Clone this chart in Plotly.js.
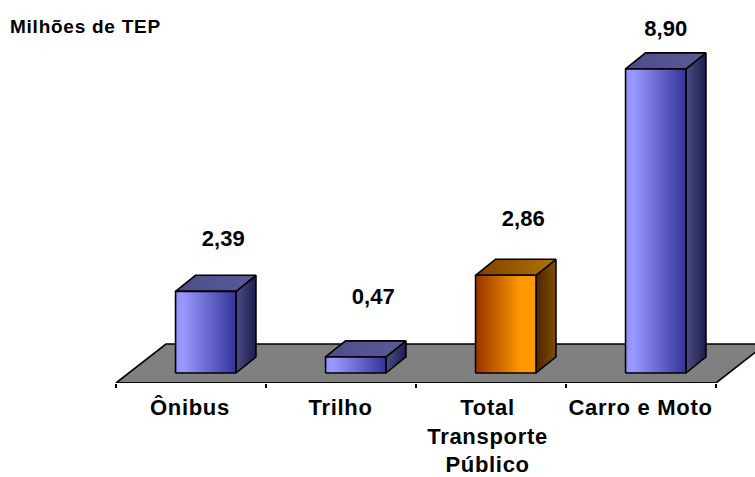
<!DOCTYPE html>
<html><head><meta charset="utf-8">
<script src="https://cdn.plot.ly/plotly-3.0.1.min.js"></script>
<style>html,body{margin:0;padding:0;background:#fff}
.annotation-text{letter-spacing:0.75px}
.xtick text{letter-spacing:0.7px}</style></head>
<body><div id="chart" style="width:755px;height:477px"></div>
<script>
const categories = ['Ônibus','Trilho','Total<br>Transporte<br>Público','Carro e Moto'];
const values = [2.39,0.47,2.86,8.90];
const valueLabels = ['2,39','0,47','2,86','8,90'];
const labelLift = [1.5,1.72,1.59,1.14];
const labelNudge = [0,0,0,-0.05];
const tickCentres = [0.493,1.497,2.477,3.497];
const unitTitle = 'Milhões de TEP';
const blueFaces = {front:[[0,'#8f8ff8'],[0.12,'#9999ff'],[1,'#333399']],side:[[0,'#4d4d85'],[1,'#1c1c4d']],top:[[0,'#4d4d8c'],[1,'#5a5a95']]};
const orangeFaces = {front:[[0,'#993300'],[0.75,'#ff9900'],[1,'#ff9900']],side:[[0,'#4d2600'],[1,'#804d00']],top:[[0,'#804000'],[1,'#b37300']]};
const barFaces = [blueFaces,blueFaces,orangeFaces,blueFaces];

const W=755,H=477,axisPx=383,zeroPx=373,leftPx=116,pxX=150,pxY=34.16;
const xr=[-leftPx/pxX,(W-leftPx)/pxX];
const floorDepthY=(axisPx-zeroPx)/pxY;
const depthX=0.133,depthY=0.47;
const traces=[];
const LINE={color:'#000',width:1.6};
function poly(x,y,fill,grad){
  const t={x,y,mode:'lines',fill:'toself',line:LINE,hoverinfo:'skip',showlegend:false};
  if(grad){t.fillgradient={type:'horizontal',colorscale:grad,start:Math.min(...x),stop:Math.max(...x)};}
  else t.fillcolor=fill;
  traces.push(t);
}
poly([0,4,4.333,0.333,0],[-floorDepthY,-floorDepthY,(zeroPx-344)/pxY,(zeroPx-344)/pxY,-floorDepthY],'#808080');
values.forEach((v,i)=>{
  const l=i+0.397,r=i+0.80,f=barFaces[i];
  poly([r,r+depthX,r+depthX,r,r],[0,depthY,v+depthY,v,0],null,f.side);
  poly([l,r,r+depthX,l+depthX,l],[v,v,v+depthY,v+depthY,v],null,f.top);
  poly([l,r,r,l,l],[0,0,v,v,0],null,f.front);
});
traces.push({x:values.map((v,i)=>i+0.715+labelNudge[i]),y:values.map((v,i)=>v+labelLift[i]),text:valueLabels,mode:'text',
  textposition:'middle center',textfont:{family:'Liberation Sans',size:22,color:'#000',weight:700},cliponaxis:false,hoverinfo:'skip',showlegend:false});
traces.push({x:[0,4],y:[-floorDepthY,-floorDepthY],mode:'lines',line:LINE,hoverinfo:'skip',showlegend:false});
const layout={width:W,height:H,margin:{l:0,r:0,t:0,b:0},paper_bgcolor:'#fff',plot_bgcolor:'rgba(0,0,0,0)',showlegend:false,
 xaxis:{range:xr,showgrid:false,zeroline:false,showline:false,tickmode:'array',tickvals:tickCentres,ticktext:categories,ticks:'',
   ticklabelstandoff:9,tickangle:0,automargin:false,
   tickfont:{family:'Liberation Sans',size:22,color:'#000',weight:700},
   minor:{tickmode:'array',tickvals:[0,1,2,3,4],ticks:'outside',ticklen:4,tickwidth:1.5,tickcolor:'#000',showgrid:false}},
 yaxis:{domain:[(H-axisPx)/H,1],range:[-floorDepthY,zeroPx/pxY],visible:false,fixedrange:true},
 annotations:[{xref:'paper',yref:'paper',x:0,y:1,xanchor:'left',yanchor:'top',xshift:8,yshift:-14,showarrow:false,text:'<b>'+unitTitle+'</b>',
   font:{family:'Liberation Sans',size:19,color:'#000'}}]
};
Plotly.newPlot('chart',traces,layout,{displayModeBar:false,staticPlot:true});
</script></body></html>
